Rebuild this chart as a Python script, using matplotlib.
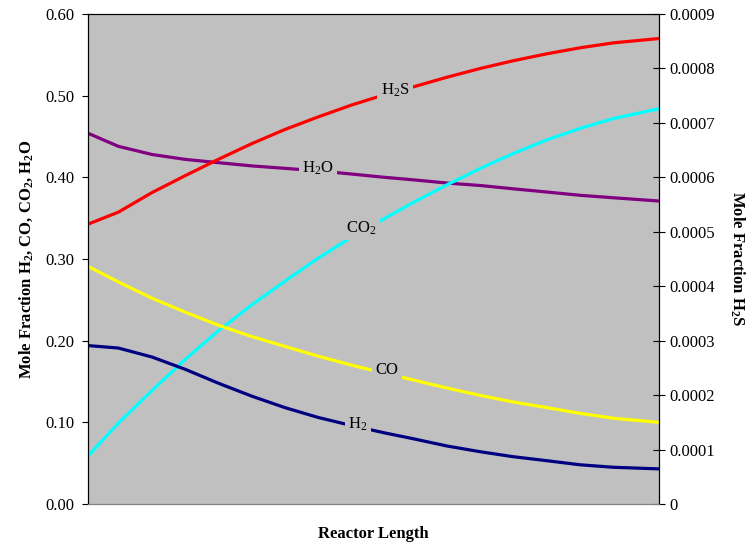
import numpy as np
import matplotlib
matplotlib.use('Agg')
import matplotlib.pyplot as plt
from matplotlib.ticker import FuncFormatter

plt.rcParams['font.family'] = ['Liberation Serif', 'DejaVu Serif']
plt.rcParams['mathtext.fontset'] = 'custom'
plt.rcParams['mathtext.rm'] = 'Liberation Serif'
plt.rcParams['mathtext.it'] = 'Liberation Serif:italic'
plt.rcParams['mathtext.bf'] = 'Liberation Serif:bold'

# position along the reactor (fraction of length)
length = [0, 0.053, 0.112, 0.170, 0.228, 0.287, 0.345, 0.403, 0.462, 0.520,
          0.569, 0.629, 0.687, 0.744, 0.804, 0.862, 0.920, 1.0]

# mole fractions, left axis
h2o = [0.454, 0.438, 0.428, 0.422, 0.418, 0.414, 0.411, 0.408, 0.404, 0.400,
       0.397, 0.393, 0.390, 0.386, 0.382, 0.378, 0.375, 0.371]
co2 = [0.059, 0.099, 0.139, 0.177, 0.212, 0.244, 0.273, 0.301, 0.327, 0.350,
       0.369, 0.391, 0.411, 0.429, 0.446, 0.460, 0.472, 0.484]
co = [0.291, 0.272, 0.252, 0.235, 0.219, 0.205, 0.193, 0.181, 0.170, 0.160,
      0.152, 0.142, 0.133, 0.125, 0.118, 0.111, 0.105, 0.100]
h2 = [0.194, 0.191, 0.180, 0.165, 0.148, 0.132, 0.118, 0.106, 0.096, 0.087,
      0.080, 0.071, 0.064, 0.058, 0.053, 0.048, 0.045, 0.043]

# H2S mole fraction, right axis
h2s = [5.14e-4, 5.36e-4, 5.72e-4, 6.03e-4, 6.33e-4, 6.62e-4, 6.88e-4, 7.11e-4,
       7.33e-4, 7.52e-4, 7.66e-4, 7.84e-4, 8.00e-4, 8.14e-4, 8.27e-4, 8.38e-4,
       8.47e-4, 8.55e-4]

bg = '#C0C0C0'
lw = 2.3

fig = plt.figure(figsize=(7.53, 5.43), dpi=100)
ax = fig.add_axes([0.1169, 0.0718, 0.7583, 0.9024])
ax.set_facecolor(bg)

ax.plot(length, h2o, color='#800080', lw=lw)
ax.plot(length, co2, color='#00FFFF', lw=lw)
ax.plot(length, co, color='#FFFF00', lw=lw)
ax.plot(length, h2, color='#000080', lw=lw)

ax.set_xlim(0, 1)
ax.set_ylim(0, 0.6)
ax.set_yticks(np.arange(0, 0.61, 0.1))
ax.yaxis.set_major_formatter(FuncFormatter(lambda v, p: '%.2f' % v))
ax.set_xticks([])
ax.tick_params(axis='y', labelsize=12, length=4.5, pad=5, direction='out')
ax.spines['bottom'].set_color('#808080')

ax.set_ylabel(r'Mole Fraction H$_\mathbf{2}$, CO, CO$_\mathbf{2}$, H$_\mathbf{2}$O',
              fontsize=12, fontweight='bold', labelpad=8)
ax.set_xlabel('Reactor Length', fontsize=12, fontweight='bold', labelpad=16)

ax2 = ax.twinx()
ax2.plot(length, h2s, color='#FF0000', lw=lw)
ax2.set_ylim(0, 0.0009)
ax2.set_yticks(np.arange(0, 0.00091, 0.0001))
ax2.yaxis.set_major_formatter(FuncFormatter(lambda v, p: '0' if abs(v) < 1e-9 else '%.4f' % v))
ax2.tick_params(axis='y', labelsize=12, length=8.5, pad=3.5, direction='inout')
ax2.spines['bottom'].set_color('#808080')
ax2.set_ylabel(r'Mole Fraction H$_\mathbf{2}$S', fontsize=12, fontweight='bold',
               rotation=-90, labelpad=22)

box = dict(facecolor=bg, edgecolor='none', pad=2.5)
ax.text(0.403, 0.411, r'H$_2$O', fontsize=12, ha='center', va='center', bbox=box)
ax.text(0.478, 0.338, r'CO$_2$', fontsize=12, ha='center', va='center', bbox=box)
ax.text(0.524, 0.164, 'CO', fontsize=12, ha='center', va='center', bbox=box)
ax.text(0.473, 0.098, r'H$_2$', fontsize=12, ha='center', va='center', bbox=box)
ax2.text(0.538, 7.6e-4, r'H$_2$S', fontsize=12, ha='center', va='center', bbox=box)

fig.savefig('out.png', dpi=100)
